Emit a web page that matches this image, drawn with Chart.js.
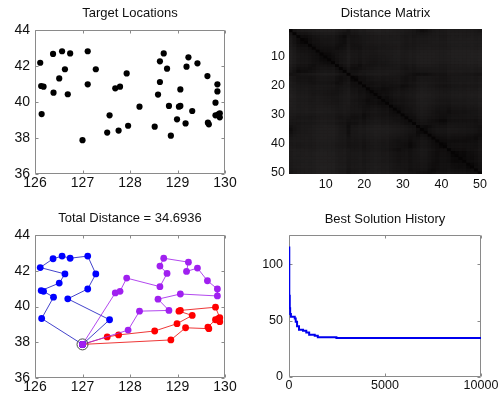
<!DOCTYPE html>
<html><head><meta charset="utf-8">
<script src="https://cdn.jsdelivr.net/npm/chart.js@4.4.1/dist/chart.umd.min.js"></script>
<style>
html,body{margin:0;padding:0;background:#fff;width:500px;height:400px;overflow:hidden}
.cell{position:absolute;width:250px;height:200px}
canvas{display:block}
</style></head><body>
<div class="cell" style="left:0;top:0"><canvas id="c1" width="250" height="200"></canvas></div>
<div class="cell" style="left:250px;top:0"><canvas id="c2" width="250" height="200"></canvas></div>
<div class="cell" style="left:0;top:200px"><canvas id="c3" width="250" height="200"></canvas></div>
<div class="cell" style="left:250px;top:200px"><canvas id="c4" width="250" height="200"></canvas></div>
<script>
// ---- data ----
// index 0 = depot; then stops listed by route (blue, purple, red)
const lon = [127.00,
  126.14,126.39,126.18,126.13,126.51,126.63,126.11,126.38,126.57,126.74,127.11,127.28,127.11,126.69,127.57,
  127.69,127.79,127.93,128.63,128.78,128.63,128.71,129.23,129.19,129.42,129.63,129.84,129.84,129.06,128.59,128.82,128.20,127.96,
  127.52,127.76,128.52,128.99,129.31,129.03,129.06,129.80,129.89,129.86,129.89,129.80,129.64,129.66,129.17,128.86];
const lat = [37.88,
  39.33,40.52,40.85,40.89,41.31,41.82,42.18,42.67,42.82,42.70,42.82,41.82,40.98,40.43,39.26,
  40.76,40.85,41.59,41.11,41.85,42.26,42.70,42.48,41.96,42.15,41.44,40.98,40.59,40.70,40.41,39.78,39.74,38.68,
  38.30,38.41,38.63,39.04,39.50,39.74,39.78,39.96,39.37,39.32,39.15,39.26,38.85,38.76,38.81,38.13];
const blueRoute = [0,1,2,3,4,5,6,7,8,9,10,11,12,13,14,15,0];
const purpleRoute = [0,16,17,18,19,20,21,22,23,24,25,26,27,28,29,30,31,32,33,0];
const redRoute = [0,34,35,36,37,38,39,40,41,42,43,44,45,46,47,48,49,0];
const historyIter = [0, 15, 40, 60, 100, 300, 350, 420, 520, 730, 900, 1050, 1340, 1500, 2470, 10000];
const historyDist = [115, 72, 61, 56, 53.5, 52, 49, 45, 42, 41, 39.4, 37.4, 36.5, 35.3, 34.6936, 34.6936];
const totalDistance = '34.6936';
const lonTicks = [126, 127, 128, 129, 130];
const latTicks = [36, 38, 40, 42, 44];
const matrixTicks = [10, 20, 30, 40, 50];
const histXTicks = [0, 5000, 10000];
const histYTicks = [0, 50, 100];

// ---- helpers ----
Chart.defaults.font.family = '"Liberation Sans", Arial, Helvetica, sans-serif';
Chart.defaults.color = '#111';

const boxPlugin = {
  id: 'mbox',
  beforeDatasetsDraw(chart, args, opts) {
    const {ctx, chartArea: a} = chart;
    if (opts && opts.fill) {
      ctx.save(); ctx.fillStyle = opts.fill;
      ctx.fillRect(a.left, a.top, a.right - a.left, a.bottom - a.top);
      ctx.restore();
    }
    if (!opts || !opts.on) return;
    ctx.save();
    ctx.strokeStyle = '#8a8a8a';
    ctx.lineWidth = 1;
    ctx.beginPath();
    const L = Math.round(a.left) + 0.5, R = Math.round(a.right) - 0.5;
    const T = Math.round(a.top) + 0.5, B = Math.round(a.bottom) - 0.5;
    ctx.rect(L, T, R - L, B - T);
    const tl = 3;
    const sx = chart.scales.x, sy = chart.scales.y;
    sx.ticks.forEach(t => {
      const p = Math.round(sx.getPixelForValue(t.value)) + 0.5;
      ctx.moveTo(p, B); ctx.lineTo(p, B - tl);
      ctx.moveTo(p, T); ctx.lineTo(p, T + tl);
    });
    sy.ticks.forEach(t => {
      const p = Math.round(sy.getPixelForValue(t.value)) + 0.5;
      ctx.moveTo(L, p); ctx.lineTo(L + tl, p);
      ctx.moveTo(R, p); ctx.lineTo(R - tl, p);
    });
    ctx.stroke();
    ctx.restore();
  }
};

function setTicks(list) { return s => { s.ticks = list.map(v => ({value: v})); }; }
const plain = v => String(v);

function baseOptions(o) {
  return {
    responsive: false, animation: false, events: [],
    layout: {padding: {left: 0, top: 0, right: o.padRight, bottom: 0}},
    plugins: {
      legend: {display: false}, tooltip: {enabled: false},
      title: {display: true, text: o.title, fullSize: false, color: '#111',
        font: {size: 13, weight: 'normal'}, padding: {top: o.tTop, bottom: o.tBottom}},
      mbox: {on: o.box !== false, fill: o.fill}
    },
    scales: {
      x: Object.assign({grid: {display: false, drawTicks: false}, border: {display: false},
        ticks: {font: {size: o.tickSize}, padding: o.xPad, color: '#111', maxRotation: 0, autoSkip: false, callback: plain},
        afterFit: s => { s.height = o.xHeight; }}, o.x),
      y: Object.assign({grid: {display: false, drawTicks: false}, border: {display: false},
        ticks: {font: {size: o.tickSize}, padding: o.yPad, color: '#111', callback: plain},
        afterFit: s => { s.width = o.yWidth; }}, o.y)
    }
  };
}

const pts = idx => idx.map(i => ({x: lon[i], y: lat[i]}));

// ---- 1: Target Locations ----
new Chart(document.getElementById('c1'), {
  type: 'scatter',
  data: {datasets: [{data: pts(lon.map((_, i) => i)), pointRadius: 3.1, pointBackgroundColor: '#000', pointBorderWidth: 0}]},
  options: baseOptions({title: 'Target Locations', padRight: 25, tTop: 5.2, tBottom: 9.2, tickSize: 14, xPad: 1, yPad: 5,
    xHeight: 26, yWidth: 35,
    x: {type: 'linear', min: 126, max: 130, afterBuildTicks: setTicks(lonTicks)},
    y: {type: 'linear', min: 36, max: 44, afterBuildTicks: setTicks(latTicks)}}),
  plugins: [boxPlugin]
});

// ---- 2: Distance Matrix ----
const n = lon.length;
const distTable = [];
let dmax = 0;
for (let i = 0; i < n; i++) {
  const row = [];
  for (let j = 0; j < n; j++) {
    const d = Math.hypot(lon[i] - lon[j], lat[i] - lat[j]);
    row.push(d); if (d > dmax) dmax = d;
  }
  distTable.push(row);
}
const cellColor = d => { const g = Math.round(4 + 28 * Math.sqrt(d / dmax)); return `rgb(${g + 2},${g},${g})`; };
const matrixLabels = lon.map((_, i) => String(i + 1));
const matrixSets = distTable.map((row, i) => ({
  data: row.map(() => [i + 0.5, i + 1.5]),
  backgroundColor: row.map(cellColor),
  borderWidth: 0, barPercentage: 1, categoryPercentage: 1
}));
new Chart(document.getElementById('c2'), {
  type: 'bar',
  data: {labels: matrixLabels, datasets: matrixSets},
  options: baseOptions({title: 'Distance Matrix', padRight: 18, tTop: 5.2, tBottom: 8.2, tickSize: 12.5, xPad: 3, yPad: 4,
    xHeight: 26, yWidth: 39, box: false, fill: '#141212',
    x: {type: 'category', stacked: true, offset: true,
      ticks: {font: {size: 12.5}, padding: 3, color: '#111', maxRotation: 0, autoSkip: false,
        callback: (v, i) => matrixTicks.includes(i + 1) ? String(i + 1) : ''}},
    y: {type: 'linear', reverse: true, min: 0.5, max: 50.5, afterBuildTicks: setTicks(matrixTicks)}}),
  plugins: [boxPlugin]
});

// ---- 3: Routes ----
const routeSet = (idx, line, dot) => ({data: pts(idx), showLine: true, borderColor: line, borderWidth: 1,
  pointRadius: 3.4, pointBackgroundColor: dot, pointBorderWidth: 0});
new Chart(document.getElementById('c3'), {
  type: 'scatter',
  data: {datasets: [
    {data: pts([0]), pointRadius: 5.5, pointBackgroundColor: 'rgba(0,0,0,0)', pointBorderColor: '#444', pointBorderWidth: 1},
    routeSet(purpleRoute, 'rgba(165,40,235,0.85)', '#a020f0'),
    routeSet(blueRoute, 'rgba(20,20,190,0.8)', '#0000ff'),
    routeSet(redRoute, 'rgba(235,20,20,0.85)', '#ff0000')
  ]},
  options: baseOptions({title: 'Total Distance = ' + totalDistance, padRight: 25, tTop: 10.2, tBottom: 9.2, tickSize: 14, xPad: 1, yPad: 5,
    xHeight: 22, yWidth: 35,
    x: {type: 'linear', min: 126, max: 130, afterBuildTicks: setTicks(lonTicks)},
    y: {type: 'linear', min: 36, max: 44, afterBuildTicks: setTicks(latTicks)}}),
  plugins: [boxPlugin]
});

// ---- 4: Best Solution History ----
new Chart(document.getElementById('c4'), {
  type: 'scatter',
  data: {datasets: [{data: historyIter.map((x, i) => ({x, y: historyDist[i]})), showLine: true, stepped: true,
    borderColor: '#0000ee', borderWidth: 2, pointRadius: 0}]},
  options: baseOptions({title: 'Best Solution History', padRight: 19, tTop: 11.2, tBottom: 8.2, tickSize: 12.5, xPad: 1, yPad: 6,
    xHeight: 23, yWidth: 39,
    x: {type: 'linear', min: 0, max: 10000, afterBuildTicks: setTicks(histXTicks)},
    y: {type: 'linear', min: 0, max: 126, afterBuildTicks: setTicks(histYTicks)}}),
  plugins: [boxPlugin]
});
</script>
</body></html>
